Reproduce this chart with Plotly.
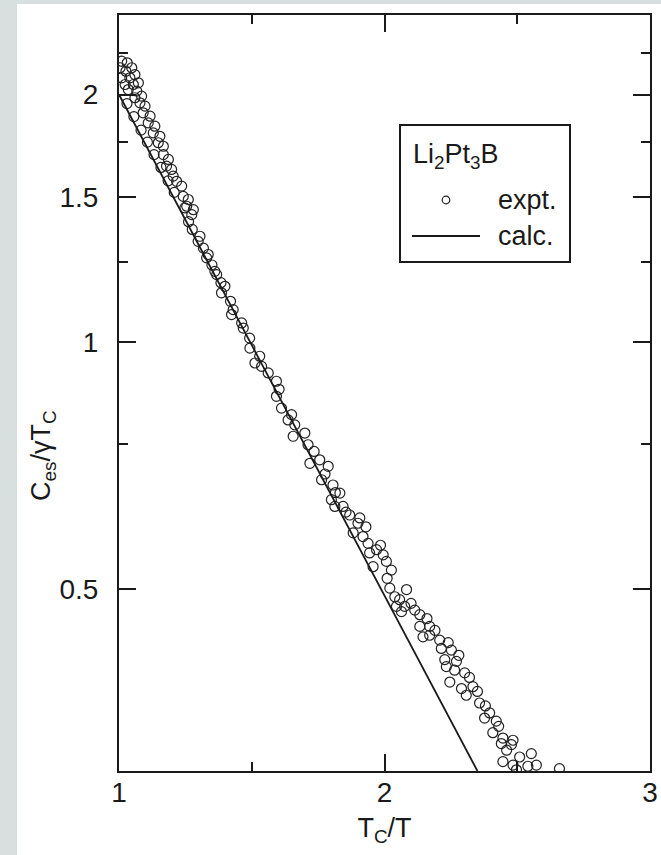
import plotly.graph_objects as go

# ---------------- data ----------------
expt_x = [1.010, 1.031, 1.004, 1.026, 1.048, 1.010, 1.041, 1.060, 1.023, 1.054,
          1.073, 1.035, 1.067, 1.085, 1.060, 1.079, 1.098, 1.091, 1.117, 1.110,
          1.135, 1.129, 1.154, 1.148, 1.167, 1.167, 1.186, 1.179, 1.198, 1.204,
          1.217, 1.236, 1.242, 1.261, 1.255, 1.280, 1.274, 1.248,
          1.030, 1.056, 1.083, 1.107, 1.132, 1.158, 1.185, 1.208, 1.262, 1.276,
          1.305, 1.298, 1.336, 1.330, 1.361, 1.368, 1.399, 1.386, 1.430, 1.424,
          1.462, 1.468, 1.493, 1.512, 1.537, 1.562, 1.593, 1.593, 1.612, 1.637,
          1.662, 1.656, 1.700, 1.712, 1.719, 1.756, 1.788, 1.763, 1.806, 1.832,
          1.800, 1.844, 1.869, 1.907,
          1.318, 1.350, 1.384, 1.420, 1.492, 1.530, 1.603, 1.650, 1.735, 1.776,
          1.815, 1.855,
          1.813, 1.900, 1.882, 1.919, 1.938, 1.970, 1.944, 1.995, 2.007, 1.957,
          2.026, 2.020, 2.083, 2.039, 2.057, 2.045, 2.076, 2.114, 2.064, 2.133,
          2.133, 2.170, 2.145, 2.170, 2.208, 2.252, 2.214, 2.227, 2.271, 2.233,
          2.264, 2.302, 2.246, 2.290, 2.333, 2.308, 2.358, 2.396, 2.377, 2.421,
          2.408, 2.446, 2.484, 2.440, 2.478, 2.553, 2.509, 2.446, 2.484, 2.540,
          2.572, 2.497, 2.659,
          1.930, 1.985, 2.010, 2.100, 2.160, 2.190, 2.240, 2.280, 2.320, 2.350,
          2.380, 2.430, 2.460]
expt_y = [2.196, 2.186, 2.156, 2.135, 2.156, 2.096, 2.096, 2.115, 2.057, 2.057,
          2.067, 2.028, 2.019, 1.991, 1.982, 1.954, 1.936, 1.900, 1.882, 1.847,
          1.830, 1.796, 1.779, 1.747, 1.730, 1.690, 1.667, 1.636, 1.621, 1.591,
          1.568, 1.547, 1.503, 1.490, 1.462, 1.448, 1.428, 1.455,
          1.950, 1.880, 1.810, 1.750, 1.690, 1.630, 1.570, 1.520, 1.400, 1.370,
          1.344, 1.325, 1.277, 1.265, 1.218, 1.207, 1.168, 1.147, 1.094, 1.079,
          1.054, 1.039, 0.982, 0.942, 0.933, 0.916, 0.895, 0.858, 0.830, 0.803,
          0.792, 0.767, 0.774, 0.749, 0.711, 0.718, 0.705, 0.679, 0.669, 0.654,
          0.642, 0.630, 0.615, 0.610,
          1.300, 1.240, 1.180, 1.120, 1.010, 0.960, 0.875, 0.815, 0.735, 0.690,
          0.655, 0.620,
          0.630, 0.601, 0.585, 0.579, 0.568, 0.558, 0.553, 0.550, 0.540, 0.532,
          0.527, 0.501, 0.499, 0.489, 0.485, 0.476, 0.476, 0.471, 0.469, 0.465,
          0.450, 0.450, 0.437, 0.439, 0.433, 0.421, 0.423, 0.410, 0.408, 0.402,
          0.398, 0.395, 0.385, 0.378, 0.380, 0.371, 0.363, 0.353, 0.348, 0.345,
          0.334, 0.329, 0.327, 0.324, 0.323, 0.315, 0.312, 0.308, 0.305, 0.304,
          0.305, 0.301, 0.302,
          0.595, 0.565, 0.515, 0.480, 0.460, 0.445, 0.430, 0.415, 0.390, 0.375,
          0.360, 0.340, 0.318]

calc_x = [1.0, 2.35]
calc_y = [2.0, 0.30]

x_tickvals = [1, 2, 3]
x_ticktext = ["1", "2", "3"]
x_minor = [1.5, 2.5]
y_tickvals = [0.5, 1, 1.5, 2]
y_ticktext = ["0.5", "1", "1.5", "2"]
y_minor = [0.75, 1.25, 1.75, 2.25]

legend_title = "Li<sub>2</sub>Pt<sub>3</sub>B"
expt_name = "expt."
calc_name = "calc."

FONT = "Liberation Sans, Arial, Helvetica, sans-serif"
INK = "#1a1a1a"
FS = 27
TFS = 28

# --------------- figure ---------------
fig = go.Figure()
fig.add_trace(go.Scatter(
    x=expt_x, y=expt_y, mode="markers", name=expt_name, showlegend=False,
    marker=dict(symbol="circle-open", size=10, color="#222222", line=dict(width=1.2)),
    cliponaxis=True))
fig.add_trace(go.Scatter(
    x=calc_x, y=calc_y, mode="lines", name=calc_name, showlegend=False,
    line=dict(color=INK, width=1.8), cliponaxis=True))

L, R, T, B = 119, 11, 15, 84
W, H = 661, 855
pw, ph = W - L - R, H - T - B


def px(xp):
    return (xp - L) / pw


def py(yp):
    return (H - B - yp) / ph


axis_common = dict(
    showgrid=False, zeroline=False, showline=True, linecolor=INK, linewidth=2,
    mirror="ticks", ticks="inside", ticklen=17, tickwidth=2, tickcolor=INK,
    tickfont=dict(family=FONT, size=TFS, color=INK), automargin=False,
)

fig.update_xaxes(
    range=[1, 3], tickmode="array", tickvals=x_tickvals, ticktext=x_ticktext,
    minor=dict(tickmode="array", tickvals=x_minor, ticks="inside", ticklen=9,
               tickwidth=2, tickcolor=INK),
    ticklabelstandoff=-5,
    title=dict(text="T<sub>C</sub>/T", font=dict(family=FONT, size=FS, color=INK), standoff=12),
    **axis_common)
fig.update_yaxes(
    type="log", range=[-0.5229, 0.3979], tickmode="array", tickvals=y_tickvals,
    ticktext=y_ticktext,
    minor=dict(tickmode="array", tickvals=y_minor, ticks="inside", ticklen=9,
               tickwidth=2, tickcolor=INK),
    ticklabelstandoff=13,
    **axis_common)

shapes = [
    # gray page edges
    dict(type="rect", xref="paper", yref="paper", x0=px(0), x1=px(17), y0=py(H + 5), y1=py(-5),
         fillcolor="#d8e0df", line=dict(width=0), layer="below"),
    dict(type="rect", xref="paper", yref="paper", x0=px(0), x1=px(W + 5), y0=py(4), y1=py(-5),
         fillcolor="#d8e0df", line=dict(width=0), layer="below"),
    # legend box
    dict(type="rect", xref="paper", yref="paper", x0=px(400), x1=px(570), y0=py(262), y1=py(125),
         fillcolor="white", line=dict(color=INK, width=2)),
    # legend line sample
    dict(type="line", xref="paper", yref="paper", x0=px(412), x1=px(480), y0=py(236), y1=py(236),
         line=dict(color=INK, width=1.8)),
    # legend marker sample
    dict(type="circle", xref="paper", yref="paper", xsizemode="pixel", ysizemode="pixel",
         xanchor=px(446), yanchor=py(200), x0=-3.8, x1=3.8, y0=-3.8, y1=3.8,
         line=dict(color="#222222", width=1.2), fillcolor="rgba(0,0,0,0)"),
]

annotations = [
    dict(text="C<sub>es</sub>/γT<sub>C</sub>", xref="paper", yref="paper",
         x=px(43), y=py(456), xanchor="center", yanchor="middle", textangle=-90,
         showarrow=False, font=dict(family=FONT, size=FS, color=INK)),
    dict(text=legend_title, xref="paper", yref="paper", x=px(411), y=py(156),
         xanchor="left", yanchor="middle", showarrow=False,
         font=dict(family=FONT, size=FS, color=INK)),
    dict(text=expt_name, xref="paper", yref="paper", x=px(496), y=py(200),
         xanchor="left", yanchor="middle", showarrow=False,
         font=dict(family=FONT, size=FS, color=INK)),
    dict(text=calc_name, xref="paper", yref="paper", x=px(496), y=py(236),
         xanchor="left", yanchor="middle", showarrow=False,
         font=dict(family=FONT, size=FS, color=INK)),
]

fig.update_layout(
    width=W, height=H, margin=dict(l=L, r=R, t=T, b=B, pad=0),
    paper_bgcolor="white", plot_bgcolor="white",
    shapes=shapes, annotations=annotations, showlegend=False,
    font=dict(family=FONT, size=FS, color=INK),
)

fig.write_html("out.html")
